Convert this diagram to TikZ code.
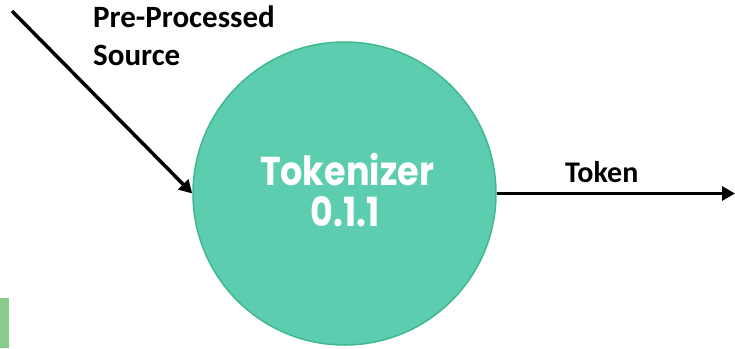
\documentclass[tikz,border=0pt]{standalone}
\usepackage{fontspec}
\setmainfont{Carlito}
\newfontfamily\roundfont{Poppins}
\usetikzlibrary{arrows.meta}
\definecolor{mint}{HTML}{5DCDB0}
\definecolor{mintedge}{HTML}{3FB890}
\definecolor{leaf}{HTML}{88CC8C}
\tikzset{
  flow/.style={line width=3.5pt, -{Triangle[length=13pt,width=14pt]}},
  label/.style={font=\bfseries\fontsize{31}{38}\selectfont, text=black, inner sep=0pt},
  process/.style={circle, fill=mint, draw=mintedge, line width=1.5pt, minimum size=303pt, inner sep=0pt},
  inner/.style={text=white, inner sep=0pt, font=\roundfont\bfseries\fontsize{35}{40}\selectfont}
}
\begin{document}
\begin{tikzpicture}[x=1pt, y=-1pt]
  \useasboundingbox (0,0) rectangle (735,348);
  % corner of a neighbouring shape
  \fill[leaf] (0,298) rectangle (9,348);
  % tokenizer process
  \node[process] (tok) at (344.5,193.5) {};
  \node[inner, anchor=base] (name) at (347,185) {\scalebox{1}[1.15]{Tokenizer}};
  \node[inner, anchor=base] (ver) at (345,226) {\scalebox{1}[1.15]{0.1.1}};
  % input and output flows
  \coordinate (src) at (12,11);
  \coordinate (out) at (735,193.5);
  \draw[flow] (src) -- (tok.west);
  \draw[flow] (tok.east) -- (out);
  \node[label, anchor=base west] (inlbl) at (93,27) {Pre-Processed};
  \node[label, anchor=base west] (inlbl2) at (93,65) {Source};
  \node[label, anchor=base west, font=\bfseries\fontsize{30}{36}\selectfont] (outlbl) at (565,182) {Token};
\end{tikzpicture}
\end{document}
